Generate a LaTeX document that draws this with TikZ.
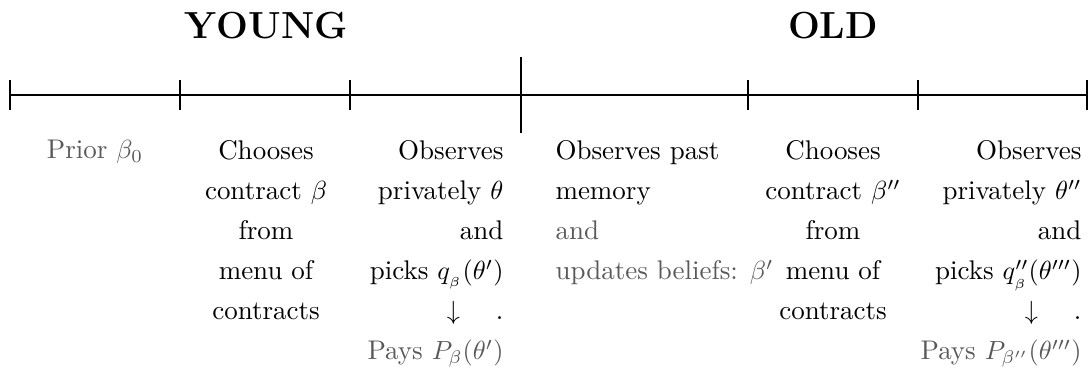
\documentclass[tikz,border=0pt]{standalone}
\definecolor{softgrey}{gray}{0.35}
\begin{document}
\begin{tikzpicture}[x=0.3817pt,y=-0.3817pt,
  txt/.style={inner sep=0pt, font=\fontsize{10.3}{15.27}\selectfont},
  ttl/.style={inner sep=0pt, anchor=base, font=\Large\bfseries},
  axis/.style={line width=0.7pt},
  tick/.style={line width=0.4pt},
  bigtick/.style={line width=0.8pt}]
\useasboundingbox (0,0) rectangle (1089,374);
% titles
\node[ttl] (young) at (266,39) {YOUNG};
\node[ttl] (old) at (833,39) {OLD};
% timeline
\coordinate (t0) at (10,95);
\coordinate (t6) at (1087,95);
\draw[axis] (t0) -- (t6);
\foreach \x in {10,180,350,748,918,1087}
  \draw[tick] (\x,80) -- (\x,110);
\draw[bigtick] (521,57) -- (521,133);
% columns
\node[txt,anchor=north,align=center,text=softgrey] (c1) at (95,140) {Prior $\beta_0$};
\node[txt,anchor=north,align=center] (c2) at (266,140) {Chooses\\contract $\beta$\\from\\menu of\\contracts};
\node[txt,anchor=north east,align=right] (c3) at (504,140) {Observes\\privately $\theta$\\and\\picks $q_{_\beta}(\theta')$\\$\downarrow$ \quad .\\\textcolor{softgrey}{Pays $P_\beta(\theta')$}};
\node[txt,anchor=north west,align=left] (c4) at (555,140) {Observes past\\memory\\\textcolor{softgrey}{and}\\\textcolor{softgrey}{updates beliefs: $\beta'$}};
\node[txt,anchor=north,align=center] (c5) at (833,140) {Chooses\\contract $\beta''$\\from\\menu of\\contracts};
\node[txt,anchor=north east,align=right] (c6) at (1082,140) {Observes\\privately $\theta''$\\and\\picks $q_{_\beta}''(\theta''')$\\$\downarrow$ \quad .\\\textcolor{softgrey}{Pays $P_{\beta''}(\theta''')$}};
\end{tikzpicture}
\end{document}
